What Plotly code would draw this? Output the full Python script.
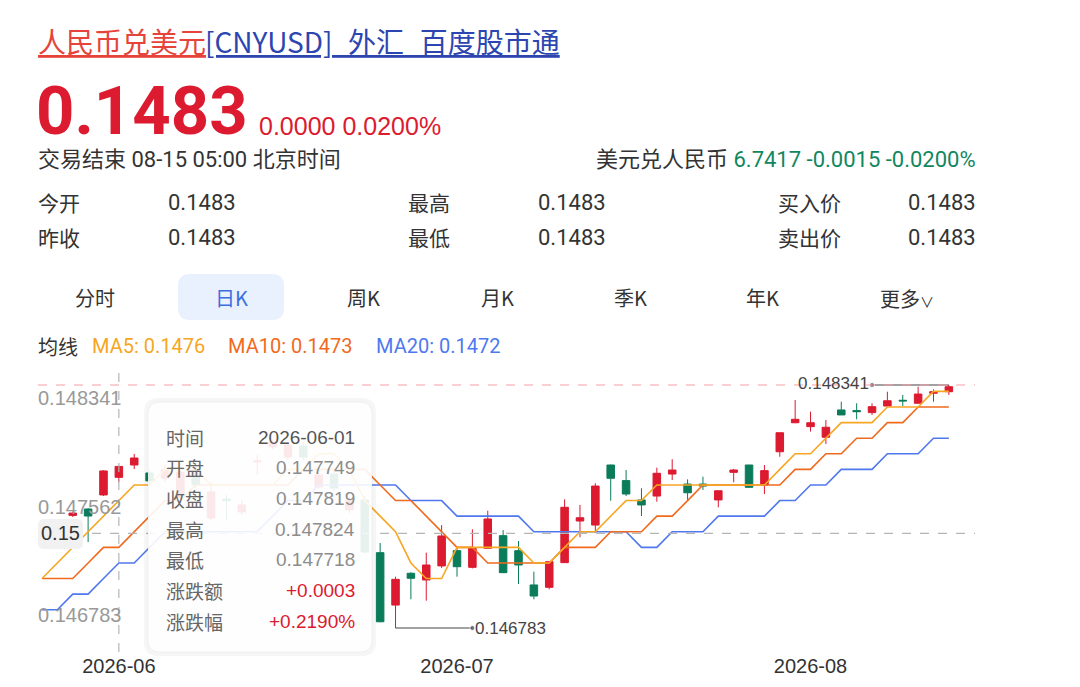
import pandas as pd
import plotly.graph_objects as go

# ---- data --------------------------------------------------------------
dates = pd.bdate_range('2026-05-25', '2026-08-14').strftime('%Y-%m-%d').tolist()

opens = [0.147380, 0.147410, 0.147505, 0.147546, 0.147636, 0.147749, 0.147828, 0.147777,
         0.147740, 0.147620, 0.147780, 0.147488, 0.147610, 0.147527, 0.147848, 0.147944,
         0.147879, 0.147950, 0.147687, 0.147770, 0.147540, 0.147604, 0.147266, 0.146930,
         0.147134, 0.147091, 0.147181, 0.147279, 0.147172, 0.147294, 0.147375, 0.147279,
         0.147059, 0.147044, 0.147202, 0.147469, 0.147443, 0.147828, 0.147728, 0.147604,
         0.147629, 0.147770, 0.147706, 0.147706, 0.147604, 0.147781, 0.147828, 0.147700,
         0.147913, 0.148099, 0.148074, 0.148006, 0.148181, 0.148177, 0.148164, 0.148206,
         0.148243, 0.148224, 0.148288, 0.148298]
highs = [0.147440, 0.147460, 0.147530, 0.147552, 0.147795, 0.147824, 0.147899, 0.147790,
         0.147830, 0.147800, 0.147800, 0.147719, 0.147636, 0.147604, 0.147892, 0.147990,
         0.147988, 0.147975, 0.147776, 0.147790, 0.147623, 0.147629, 0.147328, 0.147112,
         0.147140, 0.147266, 0.147443, 0.147304, 0.147416, 0.147535, 0.147411, 0.147341,
         0.147144, 0.147210, 0.147608, 0.147572, 0.147711, 0.147830, 0.147796, 0.147679,
         0.147811, 0.147865, 0.147736, 0.147753, 0.147665, 0.147803, 0.147829, 0.147828,
         0.148035, 0.148245, 0.148170, 0.148117, 0.148234, 0.148224, 0.148224, 0.148298,
         0.148277, 0.148330, 0.148313, 0.148341]
lows = [0.147340, 0.147370, 0.147495, 0.147334, 0.147630, 0.147718, 0.147802, 0.147700,
        0.147720, 0.147600, 0.147680, 0.147475, 0.147475, 0.147508, 0.147764, 0.147930,
        0.147860, 0.147860, 0.147675, 0.147660, 0.147520, 0.147260, 0.146820, 0.146783,
        0.146967, 0.146958, 0.147168, 0.147112, 0.147165, 0.147290, 0.147135, 0.147065,
        0.146967, 0.147031, 0.147200, 0.147365, 0.147394, 0.147599, 0.147629, 0.147501,
        0.147593, 0.147732, 0.147599, 0.147668, 0.147557, 0.147717, 0.147684, 0.147642,
        0.147881, 0.148096, 0.148042, 0.147963, 0.148149, 0.148121, 0.148149, 0.148204,
        0.148206, 0.148224, 0.148234, 0.148277]
closes = [0.147410, 0.147450, 0.147520, 0.147501, 0.147790, 0.147819, 0.147873, 0.147726,
          0.147800, 0.147780, 0.147700, 0.147655, 0.147600, 0.147572, 0.147854, 0.147976,
          0.147956, 0.147880, 0.147764, 0.147680, 0.147604, 0.147270, 0.146823, 0.147095,
          0.147102, 0.147187, 0.147373, 0.147176, 0.147294, 0.147482, 0.147138, 0.147187,
          0.146988, 0.147208, 0.147557, 0.147490, 0.147693, 0.147743, 0.147642, 0.147572,
          0.147775, 0.147796, 0.147650, 0.147693, 0.147663, 0.147796, 0.147685, 0.147792,
          0.148035, 0.148121, 0.148099, 0.148070, 0.148149, 0.148170, 0.148202, 0.148240,
          0.148239, 0.148283, 0.148298, 0.148330]

ma5 = [0.1471, 0.1472, 0.1473, 0.1474, 0.1475, 0.1476, 0.1477, 0.1477, 0.1478, 0.1478,
       0.1478, 0.1477, 0.1477, 0.1477, 0.1477, 0.1477, 0.1478, 0.1478, 0.1479, 0.1479,
       0.1478, 0.1476, 0.1475, 0.1474, 0.1472, 0.1471, 0.1471, 0.1473, 0.1473, 0.1473,
       0.1473, 0.1473, 0.1472, 0.1472, 0.1473, 0.1474, 0.1474, 0.1475, 0.1476, 0.1476,
       0.1477, 0.1477, 0.1477, 0.1477, 0.1477, 0.1477, 0.1477, 0.1477, 0.1478, 0.1479,
       0.1479, 0.1480, 0.1481, 0.1481, 0.1481, 0.1482, 0.1482, 0.1482, 0.1483, 0.1483]
ma10 = [0.1471, 0.1471, 0.1471, 0.1472, 0.1473, 0.1473, 0.1474, 0.1475, 0.1476, 0.1476,
        0.1477, 0.1477, 0.1477, 0.1477, 0.1477, 0.1477, 0.1477, 0.1478, 0.1478, 0.1478,
        0.1478, 0.1478, 0.1477, 0.1476, 0.1476, 0.1475, 0.1474, 0.1473, 0.1473, 0.1472,
        0.1472, 0.1472, 0.1472, 0.1472, 0.1473, 0.1473, 0.1473, 0.1474, 0.1474, 0.1474,
        0.1475, 0.1475, 0.1476, 0.1477, 0.1477, 0.1477, 0.1477, 0.1477, 0.1477, 0.1478,
        0.1478, 0.1479, 0.1479, 0.1480, 0.1480, 0.1481, 0.1481, 0.1482, 0.1482, 0.1482]
ma20 = [0.1469, 0.1469, 0.1470, 0.1470, 0.1471, 0.1472, 0.1472, 0.1473, 0.1474, 0.1474,
        0.1474, 0.1474, 0.1474, 0.1474, 0.1474, 0.1475, 0.1476, 0.1476, 0.1477, 0.1477,
        0.1477, 0.1477, 0.1477, 0.1477, 0.1476, 0.1476, 0.1476, 0.1475, 0.1475, 0.1475,
        0.1475, 0.1475, 0.1474, 0.1474, 0.1474, 0.1474, 0.1474, 0.1474, 0.1474, 0.1473,
        0.1473, 0.1474, 0.1474, 0.1474, 0.1475, 0.1475, 0.1475, 0.1475, 0.1476, 0.1476,
        0.1477, 0.1477, 0.1478, 0.1478, 0.1478, 0.1479, 0.1479, 0.1479, 0.1480, 0.1480]

month_ticks = ['2026-06-01', '2026-07-01', '2026-08-03']
month_labels = ['2026-06', '2026-07', '2026-08']

hover_date = '2026-06-01'
hover_change = '+0.0003'
hover_pct = '+0.2190%'
crosshair_value = 0.14739

quote_labels = [['今开', '最高', '买入价'], ['昨收', '最低', '卖出价']]
quote_values = [['0.1483', '0.1483', '0.1483'], ['0.1483', '0.1483', '0.1483']]
tabs = ['分时', '日K', '周K', '月K', '季K', '年K']

# ---- styling ---------------------------------------------------------------
# page body has an 8px margin, so the figure is drawn 8px in from the corner
OFF = 8
W, H = 1080 - 2 * OFF, 687 - 2 * OFF
RED = '#dc1a30'
GREEN = '#0b7c5a'
C_MA5, C_MA10, C_MA20 = '#f7a623', '#f06a1e', '#5078ee'
CJK = "'Noto Sans CJK SC'"
NUM = "Roboto, 'Noto Sans CJK SC'"
AX = "'Liberation Sans', 'Noto Sans CJK SC'"


def px(x):
    return (x - OFF) / W


def py(y):
    return 1 - (y - OFF) / H


def rounded(x0, y0, x1, y1, r):
    rx, ry = r / W, r / H
    X0, X1, Y0, Y1 = px(x0), px(x1), py(y0), py(y1)
    return (f'M{X0+rx},{Y0} L{X1-rx},{Y0} Q{X1},{Y0} {X1},{Y0-ry} L{X1},{Y1+ry} '
            f'Q{X1},{Y1} {X1-rx},{Y1} L{X0+rx},{Y1} Q{X0},{Y1} {X0},{Y1+ry} '
            f'L{X0},{Y0-ry} Q{X0},{Y0} {X0+rx},{Y0} Z')


def note(x, y, text, size=20, color='#333', xanchor='left', family=CJK):
    shift = {'left': -2, 'right': 2, 'center': 0}[xanchor]
    return dict(x=px(x), y=py(y), xref='paper', yref='paper', text=text, showarrow=False,
                xanchor=xanchor, yanchor='middle', xshift=shift,
                font=dict(size=size, color=color, family=family))


hi, lo = max(highs), min(lows)
span = hi - lo
imax, imin = highs.index(hi), lows.index(lo)
ih = dates.index(hover_date)

fig = go.Figure()
fig.add_trace(go.Candlestick(
    x=dates, open=opens, high=highs, low=lows, close=closes,
    increasing=dict(line=dict(color=RED, width=1), fillcolor=RED),
    decreasing=dict(line=dict(color=GREEN, width=1), fillcolor=GREEN),
    whiskerwidth=0, hoverinfo='skip', showlegend=False))
for vals, col in [(ma20, C_MA20), (ma10, C_MA10), (ma5, C_MA5)]:
    fig.add_trace(go.Scatter(x=dates, y=vals, mode='lines', line=dict(color=col, width=1.6),
                             hoverinfo='skip', showlegend=False))

# max / min markers
for idx, val, step in [(imin, lo, 5), (imax, hi, -5)]:
    fig.add_trace(go.Scatter(x=[dates[idx], dates[idx + step]], y=[val, val], mode='lines+markers',
                             line=dict(color='#444', width=1.2),
                             marker=dict(size=[0, 5], color='#444'),
                             hoverinfo='skip', showlegend=False))

shapes = [
    dict(type='line', xref='paper', yref='y', x0=px(38), x1=px(975), y0=hi, y1=hi,
         line=dict(color='#f4a0aa', width=1.2, dash='dash'), layer='above'),
    dict(type='line', xref='paper', yref='y', x0=px(38), x1=px(975), y0=crosshair_value, y1=crosshair_value,
         line=dict(color='#b5b5b5', width=1.2, dash='dash'), layer='above'),
    dict(type='line', xref='x', yref='paper', x0=hover_date, x1=hover_date, y0=py(652), y1=py(372),
         line=dict(color='#b5b5b5', width=1.2, dash='dash'), layer='above'),
    # tooltip shadow + box
    dict(type='path', xref='paper', yref='paper', path=rounded(144, 398, 376, 656, 14),
         fillcolor='rgba(0,0,0,0.035)', line=dict(width=0), layer='above'),
    dict(type='path', xref='paper', yref='paper', path=rounded(148, 402, 372, 652, 12),
         fillcolor='rgba(255,255,255,0.9)', line=dict(color='rgba(0,0,0,0.05)', width=1), layer='above'),
    # crosshair value box
    dict(type='path', xref='paper', yref='paper', path=rounded(38, 519, 83, 549, 6),
         fillcolor='#f1f1f1', line=dict(width=0), layer='above'),
    # active tab
    dict(type='path', xref='paper', yref='paper', path=rounded(178, 274, 284, 320, 12),
         fillcolor='#e8f1fd', line=dict(width=0), layer='below'),
]

annotations = [
    note(38, 41, '<u>人民币兑美元</u>', size=28, color='#e6443a'),
    note(205, 41, '<u>[CNYUSD]_外汇_百度股市通</u>', size=28, color='#2d45b0'),
    note(36, 111, '<b>0.1483</b>', size=67, color=RED, family=NUM),
    note(259, 126, '0.0000 0.0200%', size=25, color=RED, family=AX),
    note(38, 159, '交易结束 08-15 05:00 北京时间', size=22, color='#333', family=NUM),
    note(976, 159, "美元兑人民币 <span style='color:#10875f'>6.7417 -0.0015 -0.0200%</span>",
         size=22, color='#333', xanchor='right', family=NUM),
    note(38, 346, '均线', size=20, color='#333'),
    note(92, 346, 'MA5: 0.1476', size=20, color=C_MA5, family=NUM),
    note(228, 346, 'MA10: 0.1473', size=20, color=C_MA10, family=NUM),
    note(376, 346, 'MA20: 0.1472', size=20, color=C_MA20, family=NUM),
    note(880, 298, "更多<span style='font-size:14px'>∨</span>", size=20, color='#333'),
]
label_x = [38, 408, 778]
value_x = [168, 538, 908]
for r in range(2):
    y = 202 + r * 35
    for c in range(3):
        annotations.append(note(label_x[c], y, quote_labels[r][c], size=21))
        annotations.append(note(value_x[c], y, quote_values[r][c], size=22, family=NUM))
for k, t in enumerate(tabs):
    annotations.append(note([95, 231, 363, 497, 630, 762][k], 297, t, size=20,
                            color='#3d6ee0' if t == '日K' else '#333', xanchor='center'))

# y axis value labels inside plot
for val, anchor in [(hi, 'top'), ((hi + lo) / 2, 'middle'), (lo, 'bottom')]:
    annotations.append(dict(x=px(38), y=val, xref='paper', yref='y', text=f'{val:.6f}', showarrow=False,
                            xanchor='left', yanchor=anchor, xshift=-2,
                            font=dict(size=20, color='#999', family=AX)))
# crosshair value
annotations.append(dict(x=px(60), y=crosshair_value, xref='paper', yref='y', text=f'{crosshair_value:.2f}',
                        showarrow=False, xanchor='center', yanchor='middle',
                        font=dict(size=20, color='#333', family=AX)))
# max / min labels
annotations.append(dict(x=dates[imin + 5], y=lo, xref='x', yref='y', text=f'{lo:.6f}', showarrow=False,
                        xanchor='left', yanchor='middle', xshift=1, font=dict(size=17, color='#444', family=AX)))
annotations.append(dict(x=dates[imax - 5], y=hi, xref='x', yref='y', text=f'{hi:.6f}', showarrow=False,
                        xanchor='right', yanchor='middle', xshift=-1, yshift=2,
                        font=dict(size=17, color='#444', family=AX)))

# tooltip
tip_rows = [('时间', hover_date, '#555'),
            ('开盘', f'{opens[ih]:.6f}', '#8c8c8c'),
            ('收盘', f'{closes[ih]:.6f}', '#8c8c8c'),
            ('最高', f'{highs[ih]:.6f}', '#8c8c8c'),
            ('最低', f'{lows[ih]:.6f}', '#8c8c8c'),
            ('涨跌额', hover_change, RED),
            ('涨跌幅', hover_pct, RED)]
for k, (lab, val, col) in enumerate(tip_rows):
    y = 437 + k * 30.7
    annotations.append(note(166, y, lab, size=19, color='#666'))
    annotations.append(note(355, y, val, size=19, color=col, xanchor='right', family=AX))

fig.update_layout(
    width=W, height=H, autosize=False,
    margin=dict(l=0, r=0, t=0, b=0),
    paper_bgcolor='white', plot_bgcolor='white',
    hovermode=False, showlegend=False,
    shapes=shapes, annotations=annotations,
    xaxis=dict(type='category', domain=[px(38), px(975)], range=[-0.26, 60.7],
               tickvals=month_ticks, ticktext=month_labels, ticks='', showgrid=False,
               zeroline=False, showline=False, automargin=False,
               tickfont=dict(size=20, color='#333', family=AX),
               rangeslider=dict(visible=False)),
    yaxis=dict(domain=[py(652), py(372)], range=[lo - span * 24 / 243, hi + span * 13 / 243],
               showticklabels=False, showgrid=False, zeroline=False, automargin=False),
)

fig.write_html("out.html")
